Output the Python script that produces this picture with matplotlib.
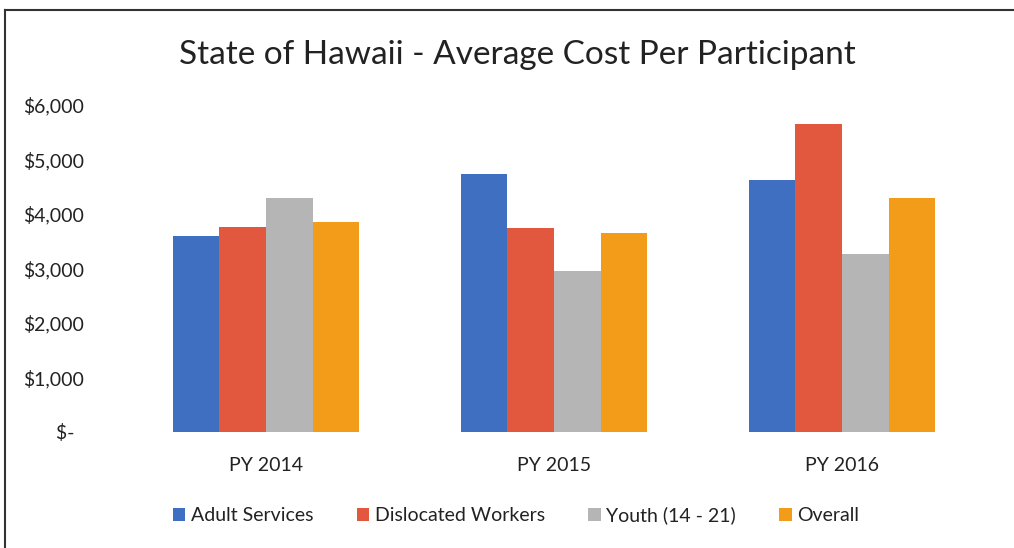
import matplotlib
matplotlib.use("Agg")
import matplotlib.pyplot as plt
import numpy as np
from matplotlib.lines import Line2D

categories = ["PY 2014", "PY 2015", "PY 2016"]
series_names = ["Adult Services", "Dislocated Workers", "Youth (14 - 21)", "Overall"]
adult = [3600, 4730, 4620]
dislocated = [3760, 3740, 5650]
youth = [4290, 2950, 3270]
overall = [3850, 3650, 4290]
yticks = [0, 1000, 2000, 3000, 4000, 5000, 6000]
ytick_labels = ["$-  ", "$1,000", "$2,000", "$3,000", "$4,000", "$5,000", "$6,000"]
colors = ["#3F6FC1", "#E2583E", "#B5B5B5", "#F39C1A"]

plt.rcParams['font.family'] = ['Lato', 'DejaVu Sans']

fig = plt.figure(figsize=(10.14, 5.48), dpi=100)
ax = fig.add_axes([0.1203, 0.2117, 0.852, 0.5967])

x = np.arange(len(categories))
w = 0.162
data = [adult, dislocated, youth, overall]
for i, (vals, name, c) in enumerate(zip(data, series_names, colors)):
    ax.bar(x + (i - 1.5) * w, vals, width=w, color=c, label=name, edgecolor='none')

ax.set_xlim(-0.5, 2.5)
ax.set_ylim(0, 6000)
ax.set_yticks(yticks)
ax.set_yticklabels(ytick_labels, fontsize=14, color="#222222")
ax.set_xticks(x)
ax.set_xticklabels(categories, fontsize=14, color="#222222")
ax.tick_params(axis='both', length=0)
ax.tick_params(axis='y', pad=27)
ax.tick_params(axis='x', pad=18)
for s in ax.spines.values():
    s.set_visible(False)

fig.text(0.51, 0.9, "State of Hawaii - Average Cost Per Participant",
         ha='center', va='center', fontsize=24, color="#222222")

leg = fig.legend(loc='center', bbox_to_anchor=(0.509, 0.06), ncol=4, frameon=False,
                 fontsize=14, handlelength=0.65, handleheight=0.65, handletextpad=0.3,
                 columnspacing=2.2)
for t in leg.get_texts():
    t.set_color("#222222")

fig.add_artist(Line2D([0.005, 0.005], [0.0, 0.982], transform=fig.transFigure,
                      color="#333333", linewidth=1.5))
fig.add_artist(Line2D([0.005, 1.0], [0.982, 0.982], transform=fig.transFigure,
                      color="#333333", linewidth=1.5))

fig.savefig("out.png", dpi=100)
